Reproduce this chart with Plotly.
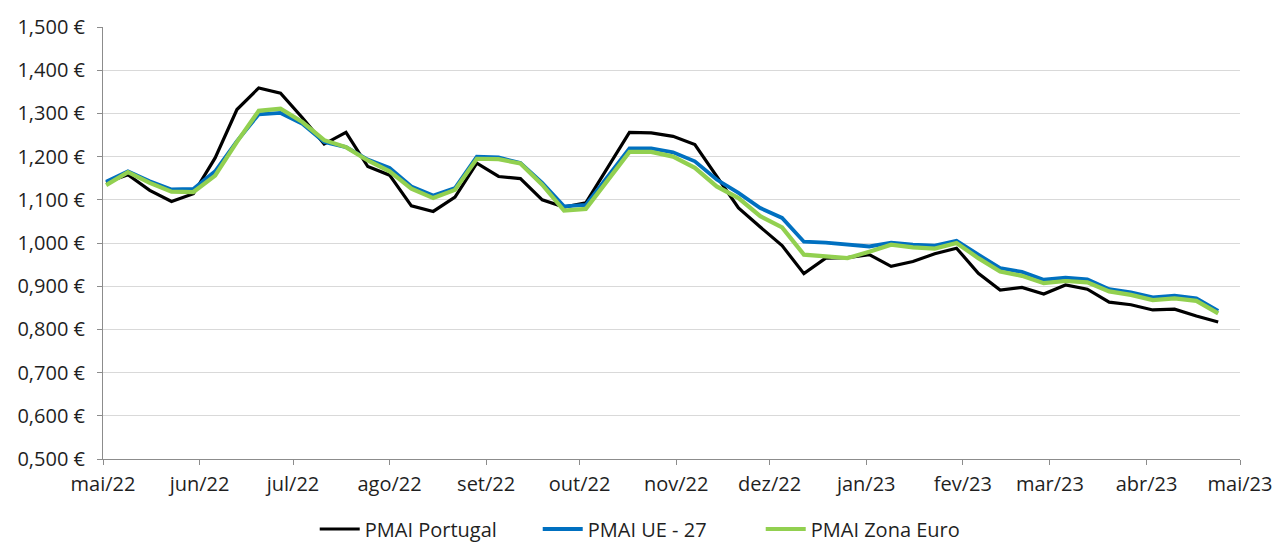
import pandas as pd
import plotly.graph_objects as go

# Weekly dates (Mondays) from early May 2022 to late April 2023
weeks = pd.date_range("2022-05-02", periods=52, freq="7D")

pmai_portugal = [
    1.140, 1.158, 1.122, 1.096, 1.114, 1.197, 1.309, 1.359, 1.347, 1.290,
    1.229, 1.256, 1.177, 1.157, 1.086, 1.073, 1.106, 1.185, 1.154, 1.149,
    1.100, 1.083, 1.093, 1.174, 1.256, 1.255, 1.247, 1.228, 1.154, 1.081,
    1.037, 0.994, 0.929, 0.965, 0.966, 0.973, 0.946, 0.957, 0.975, 0.988,
    0.930, 0.891, 0.897, 0.882, 0.903, 0.893, 0.863, 0.857, 0.845, 0.847,
    0.831, 0.817,
]
pmai_ue27 = [
    1.142, 1.166, 1.143, 1.124, 1.125, 1.166, 1.236, 1.298, 1.301, 1.276,
    1.234, 1.222, 1.193, 1.174, 1.131, 1.110, 1.127, 1.200, 1.198, 1.185,
    1.139, 1.085, 1.088, 1.154, 1.219, 1.219, 1.210, 1.189, 1.147, 1.116,
    1.081, 1.058, 1.003, 1.001, 0.996, 0.992, 1.001, 0.996, 0.994, 1.005,
    0.973, 0.942, 0.933, 0.915, 0.920, 0.916, 0.893, 0.886, 0.874, 0.878,
    0.872, 0.843,
]
pmai_zona_euro = [
    1.134, 1.164, 1.139, 1.119, 1.118, 1.156, 1.234, 1.306, 1.311, 1.280,
    1.238, 1.222, 1.191, 1.166, 1.126, 1.104, 1.123, 1.195, 1.194, 1.184,
    1.135, 1.075, 1.079, 1.145, 1.211, 1.211, 1.200, 1.174, 1.131, 1.104,
    1.062, 1.036, 0.973, 0.969, 0.965, 0.980, 0.996, 0.990, 0.987, 1.000,
    0.965, 0.934, 0.924, 0.907, 0.912, 0.909, 0.888, 0.880, 0.868, 0.872,
    0.866, 0.837,
]

month_ticks = pd.date_range("2022-05-01", "2023-05-01", freq="MS")
month_labels = ["mai/22", "jun/22", "jul/22", "ago/22", "set/22", "out/22",
                "nov/22", "dez/22", "jan/23", "fev/23", "mar/23", "abr/23",
                "mai/23"]

y_ticks = [0.5, 0.6, 0.7, 0.8, 0.9, 1.0, 1.1, 1.2, 1.3, 1.4, 1.5]
y_labels = ["0,500 €", "0,600 €", "0,700 €", "0,800 €", "0,900 €", "1,000 €",
            "1,100 €", "1,200 €", "1,300 €", "1,400 €", "1,500 €"]

series = [
    ("PMAI Portugal", pmai_portugal, "#000000", 3.2),
    ("PMAI UE - 27", pmai_ue27, "#0070C0", 3.8),
    ("PMAI Zona Euro", pmai_zona_euro, "#92D050", 4.2),
]

fig = go.Figure()
for name, values, color, width in series:
    fig.add_trace(go.Scatter(
        x=weeks, y=values, name=name, mode="lines",
        line=dict(color=color, width=width),
    ))

font_family = "'Open Sans', 'Noto Sans', sans-serif"
text_color = "#1f1f1f"

fig.update_layout(
    width=1278, height=542,
    margin=dict(l=103, r=38, t=27, b=83),
    paper_bgcolor="white", plot_bgcolor="white",
    font=dict(family=font_family, size=20, color=text_color),
    showlegend=True,
    legend=dict(
        orientation="h", xref="container", yref="container",
        x=0.508, xanchor="center", y=0.024, yanchor="middle",
        font=dict(size=20, color=text_color),
        itemwidth=40, traceorder="normal",
        entrywidth=168,
    ),
)

fig.update_xaxes(
    type="date",
    range=[month_ticks[0], month_ticks[-1]],
    tickvals=month_ticks, ticktext=month_labels,
    showgrid=False, zeroline=False,
    showline=True, linecolor="#8c8c8c", linewidth=1,
    ticks="outside", ticklen=5, tickcolor="#8c8c8c",
    ticklabelstandoff=2, automargin=False,
    tickfont=dict(size=20, color=text_color),
)
fig.update_yaxes(
    range=[0.5, 1.5],
    tickvals=y_ticks, ticktext=y_labels,
    showgrid=True, gridcolor="#d9d9d9", gridwidth=1,
    zeroline=False,
    showline=True, linecolor="#8c8c8c", linewidth=1,
    ticks="outside", ticklen=5, tickcolor="#8c8c8c",
    ticklabelstandoff=8, automargin=False,
    tickfont=dict(size=20, color=text_color),
)

fig.write_html("out.html")
